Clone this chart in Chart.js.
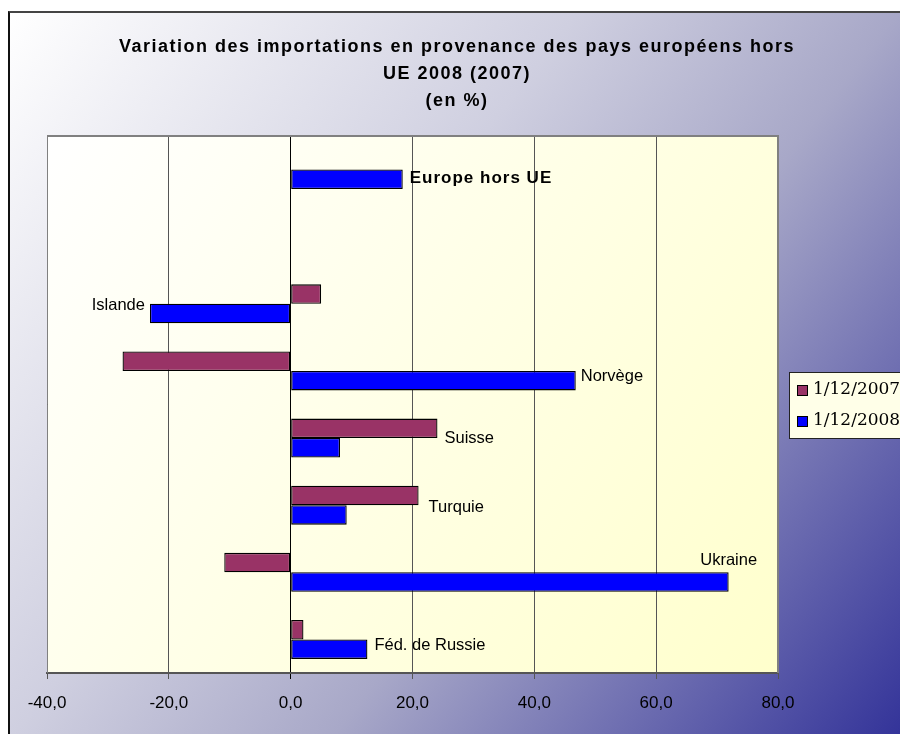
<!DOCTYPE html>
<html>
<head>
<meta charset="utf-8">
<script src="https://cdn.jsdelivr.net/npm/chart.js@4.4.0/dist/chart.umd.min.js"></script>
<style>
  html, body { margin: 0; padding: 0; background: #fff; overflow: hidden; }
  #frame {
    position: absolute; left: 8px; top: 11px; width: 892px; height: 723px;
    border-left: 2px solid #111; border-top: 2px solid #444;
    background: linear-gradient(128deg, #ffffff 0%, #cfcfe0 39%, #a8a8c8 61%, #333399 100%);
  }
  #myChart { position: absolute; left: 0; top: 0; }
</style>
</head>
<body>
<div id="frame"></div>
<canvas id="myChart" width="900" height="734"></canvas>
<script>
const titleLines = [
  "Variation des importations en provenance des pays européens hors",
  "UE 2008 (2007)",
  "(en %)",
];
const categories = ["Europe hors UE", "", "Islande", "Norvège", "Suisse", "Turquie", "Ukraine", "Féd. de Russie"];
const seriesNames = ["1/12/2007", "1/12/2008"];
const values2007 = [null, null, 5.0, -27.6, 24.1, 21.0, -10.9, 2.1];
const values2008 = [18.4, null, -23.1, 46.8, 8.1, 9.2, 71.9, 12.6];
const xMin = -40;
const xMax = 80;
const xStep = 20;

// where each category name sits relative to one of its bars
const labelPlacement = [
  { ds: 1, align: "left", dx: 7, dy: -1, bold: true },
  null,
  { ds: 1, align: "right", dx: -5, dy: -8 },
  { ds: 1, align: "left", dx: 5, dy: -4 },
  { ds: 0, align: "left", dx: 7, dy: 10 },
  { ds: 0, align: "left", dx: 10, dy: 12 },
  { ds: 1, align: "center", dx: 0, dy: -22 },
  { ds: 1, align: "left", dx: 7, dy: -4 },
];

const sansFont = "'Liberation Sans', Arial, sans-serif";

const chartTitle = {
  id: "chartTitle",
  afterDraw(chart) {
    const ctx = chart.ctx;
    ctx.save();
    ctx.fillStyle = "#000";
    ctx.font = "bold 18px " + sansFont;
    ctx.letterSpacing = "1.5px";
    ctx.textAlign = "center";
    ctx.textBaseline = "middle";
    titleLines.forEach((line, i) => {
      ctx.fillText(line, 457, 47 + i * 27);
    });
    ctx.restore();
  },
};

const plotBackground = {
  id: "plotBackground",
  beforeDraw(chart) {
    const { ctx, chartArea: a } = chart;
    const g = ctx.createLinearGradient(a.left, a.top, a.right, a.bottom);
    g.addColorStop(0, "#ffffff");
    g.addColorStop(1, "#ffffcc");
    ctx.save();
    ctx.fillStyle = g;
    ctx.fillRect(a.left, a.top, a.right - a.left, a.bottom - a.top);
    ctx.restore();
  },
  afterDraw(chart) {
    const { ctx, chartArea: a } = chart;
    ctx.save();
    ctx.strokeStyle = "#808080";
    ctx.lineWidth = 2;
    ctx.beginPath();
    ctx.moveTo(a.left, a.top);
    ctx.lineTo(a.right, a.top);
    ctx.lineTo(a.right, a.bottom);
    ctx.stroke();
    ctx.lineWidth = 1;
    ctx.beginPath();
    ctx.moveTo(a.left + 0.5, a.top);
    ctx.lineTo(a.left + 0.5, a.bottom);
    ctx.stroke();
    ctx.restore();
  },
};

const categoryLabels = {
  id: "categoryLabels",
  afterDatasetsDraw(chart) {
    const ctx = chart.ctx;
    ctx.save();
    ctx.fillStyle = "#000";
    ctx.textBaseline = "middle";
    categories.forEach((name, i) => {
      const p = labelPlacement[i];
      if (!p || !name) return;
      const el = chart.getDatasetMeta(p.ds).data[i];
      ctx.font = (p.bold ? "bold 17px " : "16.5px ") + sansFont;
      ctx.letterSpacing = p.bold ? "1px" : "0px";
      ctx.textAlign = p.align;
      ctx.fillText(name, el.x + p.dx, el.y + p.dy);
    });
    ctx.restore();
  },
};

const boxLegend = {
  id: "boxLegend",
  afterDraw(chart) {
    const { ctx, chartArea: a } = chart;
    const left = a.right + 11;
    const top = 372;
    ctx.save();
    ctx.fillStyle = "#ffffe8";
    ctx.strokeStyle = "#222";
    ctx.lineWidth = 1;
    ctx.fillRect(left, top, 140, 66);
    ctx.strokeRect(left + 0.5, top + 0.5, 140, 66);
    ctx.font = "17px 'DejaVu Serif', serif";
    ctx.textBaseline = "middle";
    ctx.textAlign = "left";
    chart.data.datasets.forEach((ds, i) => {
      const y = top + 18 + i * 31;
      ctx.fillStyle = ds.backgroundColor;
      ctx.fillRect(left + 8, y - 5, 10, 10);
      ctx.strokeStyle = "#000";
      ctx.strokeRect(left + 8.5, y - 4.5, 10, 10);
      ctx.fillStyle = "#000";
      ctx.fillText(ds.label, left + 24, y);
    });
    ctx.restore();
  },
};

const chart = new Chart(document.getElementById("myChart"), {
  type: "bar",
  data: {
    labels: categories,
    datasets: [
      {
        label: seriesNames[0],
        data: values2007,
        backgroundColor: "#993366",
        borderColor: "#000",
        borderWidth: 1.3,
        borderSkipped: false,
      },
      {
        label: seriesNames[1],
        data: values2008,
        backgroundColor: "#0000ff",
        borderColor: "#000",
        borderWidth: 1.3,
        borderSkipped: false,
      },
    ],
  },
  options: {
    indexAxis: "y",
    responsive: false,
    animation: false,
    categoryPercentage: 0.58,
    barPercentage: 1,
    layout: { padding: { top: 136, left: 9, right: 0, bottom: 0 } },
    plugins: {
      legend: { display: false },
      tooltip: { enabled: false },
      title: { display: false },
    },
    scales: {
      x: {
        min: xMin,
        max: xMax,
        ticks: {
          stepSize: xStep,
          color: "#000",
          padding: 14,
          font: { family: sansFont, size: 17 },
          callback: (v) => v.toFixed(1).replace(".", ","),
        },
        grid: {
          color: (c) => (c.tick && c.tick.value === 0 ? "#000" : "#555"),
          lineWidth: 1,
          tickLength: 6,
        },
        border: { color: "#555", width: 2 },
        afterFit: (s) => { s.height = 61; },
      },
      y: {
        ticks: { display: false },
        grid: { display: false },
        border: { display: false },
        afterFit: (s) => { s.width = 38; },
      },
      yRight: {
        type: "linear",
        position: "right",
        ticks: { display: false },
        grid: { display: false },
        border: { display: false },
        afterFit: (s) => { s.width = 122; },
      },
    },
  },
  plugins: [plotBackground, categoryLabels, boxLegend, chartTitle],
});
</script>
</body>
</html>
